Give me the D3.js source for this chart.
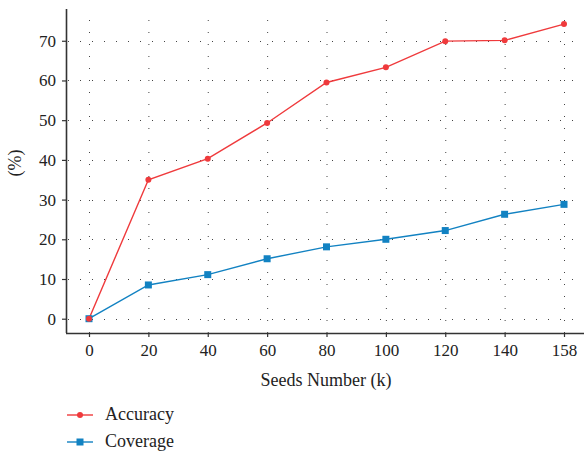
<!DOCTYPE html>
<html>
<head>
<meta charset="utf-8">
<script src="https://cdn.jsdelivr.net/npm/d3@7"></script>
<style>
  body { margin: 0; background: #fff; }
  svg { display: block; }
  svg text { font-family: "Liberation Serif", "Times New Roman", serif !important; }
</style>
</head>
<body>
<svg id="chart" width="584" height="453"></svg>
<script>
const seeds = ['0', '20', '40', '60', '80', '100', '120', '140', '158'];
const accuracy = [0, 35, 40.3, 49.3, 59.5, 63.3, 69.9, 70.1, 74.2];
const coverage = [0, 8.5, 11.1, 15.1, 18.1, 20, 22.2, 26.3, 28.8];
const yTicks = [0, 10, 20, 30, 40, 50, 60, 70];

const svg = d3.select('#chart');
const plot = { left: 66, right: 584, top: 9, bottom: 333 };

const x = d3.scalePoint().domain(seeds).range([89, 564]);
const y = d3.scaleLinear().domain([-3.6, 78]).range([plot.bottom, plot.top]);

// dotted grid
const grid = svg.append('g').attr('class', 'grid')
  .attr('stroke', '#444').attr('stroke-width', 1).attr('stroke-dasharray', '1,11');
grid.selectAll('.gx').data(seeds).enter().append('line')
  .attr('x1', d => x(d) + 0.5).attr('x2', d => x(d) + 0.5)
  .attr('y1', plot.bottom).attr('y2', plot.top);
grid.selectAll('.gy').data(yTicks).enter().append('line')
  .attr('x1', plot.left + 2).attr('x2', plot.right)
  .attr('y1', d => Math.round(y(d)) + 0.5).attr('y2', d => Math.round(y(d)) + 0.5);

// axes
const xAxis = svg.append('g')
  .attr('transform', `translate(0,${plot.bottom})`)
  .call(d3.axisBottom(x).tickSize(4).tickPadding(7));
xAxis.select('.domain').attr('d', `M${plot.left},0.5H${plot.right}`);

const yAxis = svg.append('g')
  .attr('transform', `translate(${plot.left},0)`)
  .call(d3.axisLeft(y).tickValues(yTicks).tickSize(4).tickPadding(6));
yAxis.select('.domain').attr('d', `M0.5,${plot.top}V${plot.bottom}`);

[xAxis, yAxis].forEach(g => {
  g.attr('font-family', null).attr('font-size', null);
  g.select('.domain').attr('stroke', '#333').attr('stroke-width', 1.6);
  g.selectAll('.tick line').attr('stroke', '#333').attr('stroke-width', 1.2);
  g.selectAll('.tick text').attr('fill', '#222').style('font-size', '17px');
});

svg.append('text')
  .attr('x', 326).attr('y', 386)
  .attr('text-anchor', 'middle')
  .attr('fill', '#222').style('font-size', '18px')
  .text('Seeds Number (k)');

svg.append('text')
  .attr('transform', 'translate(21,163) rotate(-90)')
  .attr('text-anchor', 'middle')
  .attr('fill', '#222').style('font-size', '18px')
  .text('(%)');

// series
const series = [
  { name: 'Accuracy', values: accuracy, color: '#ef3a3c', marker: 'circle' },
  { name: 'Coverage', values: coverage, color: '#1282c2', marker: 'square' }
];

const line = d3.line()
  .x((d, i) => x(seeds[i]))
  .y(d => y(d));

series.forEach(s => {
  svg.append('path')
    .datum(s.values)
    .attr('fill', 'none')
    .attr('stroke', s.color)
    .attr('stroke-width', 1.4)
    .attr('d', line);
});

function drawMarker(g, type, color, cx, cy) {
  if (type === 'circle') {
    g.append('circle').attr('cx', cx).attr('cy', cy).attr('r', 3).attr('fill', color);
  } else {
    g.append('rect').attr('x', cx - 3.5).attr('y', cy - 3.5)
      .attr('width', 7).attr('height', 7).attr('fill', color);
  }
}

series.slice().reverse().forEach(s => {
  const g = svg.append('g');
  s.values.forEach((v, i) => drawMarker(g, s.marker, s.color, x(seeds[i]), y(v)));
});

// legend
const legend = svg.append('g').attr('class', 'legend');
series.forEach((s, i) => {
  const ly = 415 + i * 27;
  legend.append('line')
    .attr('x1', 67).attr('x2', 93).attr('y1', ly).attr('y2', ly)
    .attr('stroke', s.color).attr('stroke-width', 1.4);
  drawMarker(legend, s.marker, s.color, 80, ly);
  legend.append('text')
    .attr('x', 105).attr('y', ly + 5)
    .attr('fill', '#222').style('font-size', '18px')
    .text(s.name);
});
</script>
</body>
</html>
